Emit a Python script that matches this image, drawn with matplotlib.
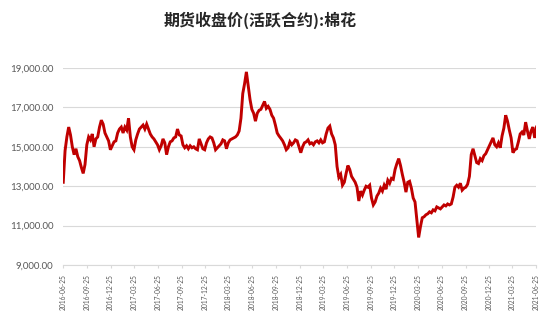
import matplotlib
matplotlib.use("Agg")

import matplotlib.pyplot as plt
import pandas as pd
from matplotlib.ticker import FuncFormatter

plt.rcParams["font.family"] = ["Lato", "Noto Sans CJK SC", "DejaVu Sans"]

title = "期货收盘价(活跃合约):棉花"
start_date = "2016-06-25"
end_date = "2021-06-25"

# weekly closes, one row per quarter
prices = [
    13200, 14800, 15500, 16000, 15600, 15000, 14600, 14900, 14500, 14300, 13950, 13650, 14100,
    15100, 15500, 15350, 15650, 15000, 15400, 15500, 16000, 16350, 16150, 15700, 15500, 15300,
    14850, 15050, 15250, 15300, 15700, 15900, 16000, 15700, 16000, 15850, 16450, 15500, 15000,
    14850, 15350, 15650, 15900, 16000, 16100, 15900, 16150, 15900, 15650, 15500, 15400, 15250,
    15100, 14850, 15050, 15400, 15200, 14600, 15000, 15250, 15300, 15450, 15500, 15900, 15600,
    15550, 15100, 14950, 15050, 14900, 15050, 14950, 15000, 14900, 14850, 15400, 15150, 14900,
    14850, 15200, 15400, 15500, 15450, 15200, 14850, 14950, 15050, 15150, 15350, 15300, 14900,
    15200, 15350, 15400, 15450, 15500, 15600, 15800, 16450, 17700, 18200, 18800, 18100, 17400,
    16900, 16700, 16300, 16700, 16850, 16900, 17100, 17300, 16950, 17050, 16900, 16600, 16450,
    16100, 15700, 15550, 15430, 15300, 15100, 14850, 14950, 15250, 15100, 15200, 15350, 15300,
    15000, 14700, 15000, 15200, 15250, 15350, 15150, 15200, 15100, 15250, 15300, 15200, 15350,
    15200, 15250, 15650, 15950, 16050, 15650, 15450, 15100, 14000, 13450, 13600, 13050, 13200,
    13650, 14050, 13850, 13500, 13350, 13200, 12950, 12250, 12750, 12550, 12800, 13000, 12950,
    13050, 12400, 12050, 12200, 12500, 12650, 12900, 12750, 13050, 12850, 13300, 13150, 13400,
    13350, 13850, 14150, 14400, 14050, 13600, 13200, 12700, 13200, 13250, 12900, 12400, 12200,
    11300, 10400, 10950, 11400, 11450, 11550, 11600, 11700, 11650, 11800, 11750, 11950, 11900,
    11850, 11950, 12050, 12000, 12100, 12050, 12100, 12450, 12950, 13050, 12950, 13150, 12800,
    12900, 12950, 13100, 13500, 14600, 14900, 14550, 14200, 14150, 14400, 14300, 14550, 14650,
    14850, 15050, 15250, 15450, 15100, 15000, 15200, 14950, 15550, 15950, 16600, 16300, 15850,
    15450, 14700, 14850, 14900, 15250, 15650, 15750, 15600, 16250, 15800, 15400, 15800, 16000,
    15450, 16000,
]

y_ticks = [9000, 11000, 13000, 15000, 17000, 19000]

dates = pd.date_range(start_date, periods=len(prices), freq="7D")
tick_dates = pd.date_range(start_date, end_date, freq=pd.DateOffset(months=3))

fig = plt.figure(figsize=(5.5, 3.33), dpi=100)
ax = fig.add_axes([0.115, 0.204, 0.860, 0.592])

ax.plot(dates, prices, color="#C00000", linewidth=2.1, solid_joinstyle="miter")

ax.set_ylim(y_ticks[0], y_ticks[-1])
ax.set_yticks(y_ticks)
ax.yaxis.set_major_formatter(FuncFormatter(lambda v, _: f"{v:,.2f}"))
ax.set_xlim(tick_dates[0], tick_dates[-1])
ax.set_xticks(tick_dates)
ax.set_xticklabels([d.strftime("%Y-%m-%d") for d in tick_dates], rotation=90)

ax.grid(axis="y", color="#d9d9d9", linewidth=0.8)
ax.set_axisbelow(True)
for side in ("top", "right", "left"):
    ax.spines[side].set_visible(False)
ax.spines["bottom"].set_color("#d9d9d9")
ax.spines["bottom"].set_linewidth(0.8)

ax.tick_params(axis="y", length=0, pad=7, labelsize=7, labelcolor="#595959")
ax.tick_params(axis="x", length=2.5, width=0.8, color="#d9d9d9", pad=4,
               labelsize=4.8, labelcolor="#595959")

fig.text(0.473, 0.94, title, ha="center", va="center", fontsize=11.5,
         fontweight="bold", color="#262626", family=["Noto Sans CJK SC", "DejaVu Sans"])

fig.savefig("out.png", dpi=100)
plt.close(fig)
